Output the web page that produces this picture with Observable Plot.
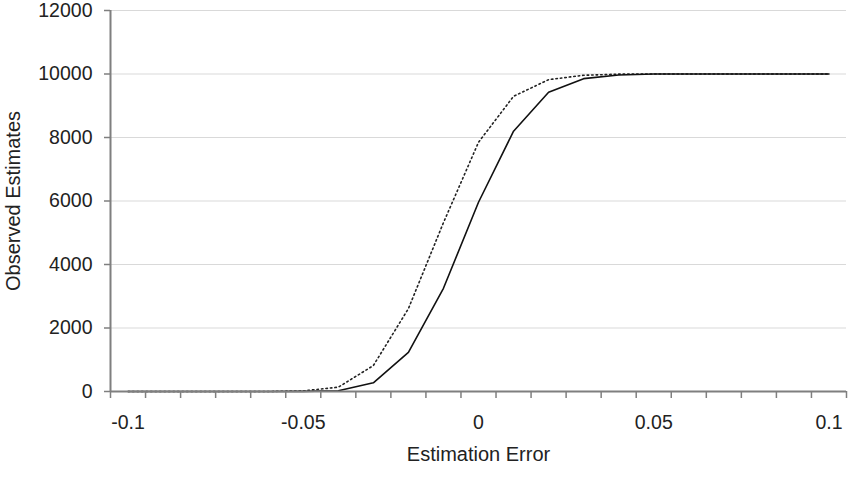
<!DOCTYPE html>
<html>
<head>
<meta charset="utf-8">
<script src="https://cdn.jsdelivr.net/npm/d3@7"></script>
<script src="https://cdn.jsdelivr.net/npm/@observablehq/plot@0.6"></script>
<style>
  html, body { margin: 0; padding: 0; background: #fff; }
  #chart svg { display: block; }
</style>
</head>
<body>
<div id="chart"></div>
<script>
// Categories (estimation error)
const categories = [-0.1, -0.09, -0.08, -0.07, -0.06, -0.05, -0.04, -0.03, -0.02, -0.01, 0,
                    0.01, 0.02, 0.03, 0.04, 0.05, 0.06, 0.07, 0.08, 0.09, 0.1];
// Solid series
const solidValues = [0, 0, 0, 0, 0, 3, 25, 273, 1235, 3250, 5960,
                     8198, 9424, 9853, 9970, 10000, 10000, 10000, 10000, 10000, 10000];
// Dotted series
const dottedValues = [0, 0, 0, 0, 0, 20, 135, 817, 2610, 5318, 7850,
                      9297, 9822, 9960, 9995, 10000, 10000, 10000, 10000, 10000, 10000];
// Tick labels
const xTickLabels = [-0.1, -0.05, 0, 0.05, 0.1];
const yTickLabels = [0, 2000, 4000, 6000, 8000, 10000, 12000];

const half = (categories[1] - categories[0]) / 2;
const boundaries = [categories[0] - half, ...categories.map(c => c + half)];

const solid = categories.map((x, i) => ({x, y: solidValues[i]}));
const dotted = categories.map((x, i) => ({x, y: dottedValues[i]}));

const fmt = d => String(d);
const axisColor = "#7f7f7f";
const textColor = "#222";

const chart = Plot.plot({
  width: 848,
  height: 484,
  marginLeft: 110,
  marginRight: 2,
  marginTop: 10,
  marginBottom: 93,
  style: {fontFamily: "'Liberation Sans', Arial, sans-serif", fontSize: "19px", color: textColor, background: "#fff"},
  x: {domain: [boundaries[0], boundaries[boundaries.length - 1]]},
  y: {domain: [0, 12000]},
  marks: [
    Plot.gridY(yTickLabels.filter(d => d > 0), {stroke: "#d9d9d9", strokeOpacity: 1, strokeWidth: 1}),
    Plot.line(dotted, {x: "x", y: "y", stroke: "#222", strokeWidth: 1.6, strokeDasharray: "1.5,3"}),
    Plot.line(solid, {x: "x", y: "y", stroke: "#111", strokeWidth: 1.6}),
    Plot.ruleY([0], {stroke: axisColor, strokeWidth: 2}),
    Plot.ruleX([boundaries[0]], {stroke: axisColor, strokeWidth: 2}),
    Plot.axisX({ticks: boundaries, tickSize: 7, tickFormat: () => "", stroke: axisColor, strokeWidth: 1.5, label: null}),
    Plot.axisX({ticks: xTickLabels, tickSize: 0, tickPadding: 24, tickFormat: fmt, fontSize: 19.5, fill: textColor, label: null}),
    Plot.axisY({ticks: yTickLabels, tickSize: 6, tickPadding: 12, tickFormat: fmt, fontSize: 19.5, fill: textColor, stroke: axisColor, strokeWidth: 1.5, label: null}),
    Plot.text(["Estimation Error"], {frameAnchor: "bottom", dy: 69, text: d => d, fontSize: 20, fill: textColor, textAnchor: "middle"}),
    Plot.text(["Observed Estimates"], {frameAnchor: "left", dx: -97, rotate: -90, text: d => d, fontSize: 20, fill: textColor, textAnchor: "middle"})
  ]
});
document.getElementById("chart").appendChild(chart);
</script>
</body>
</html>
